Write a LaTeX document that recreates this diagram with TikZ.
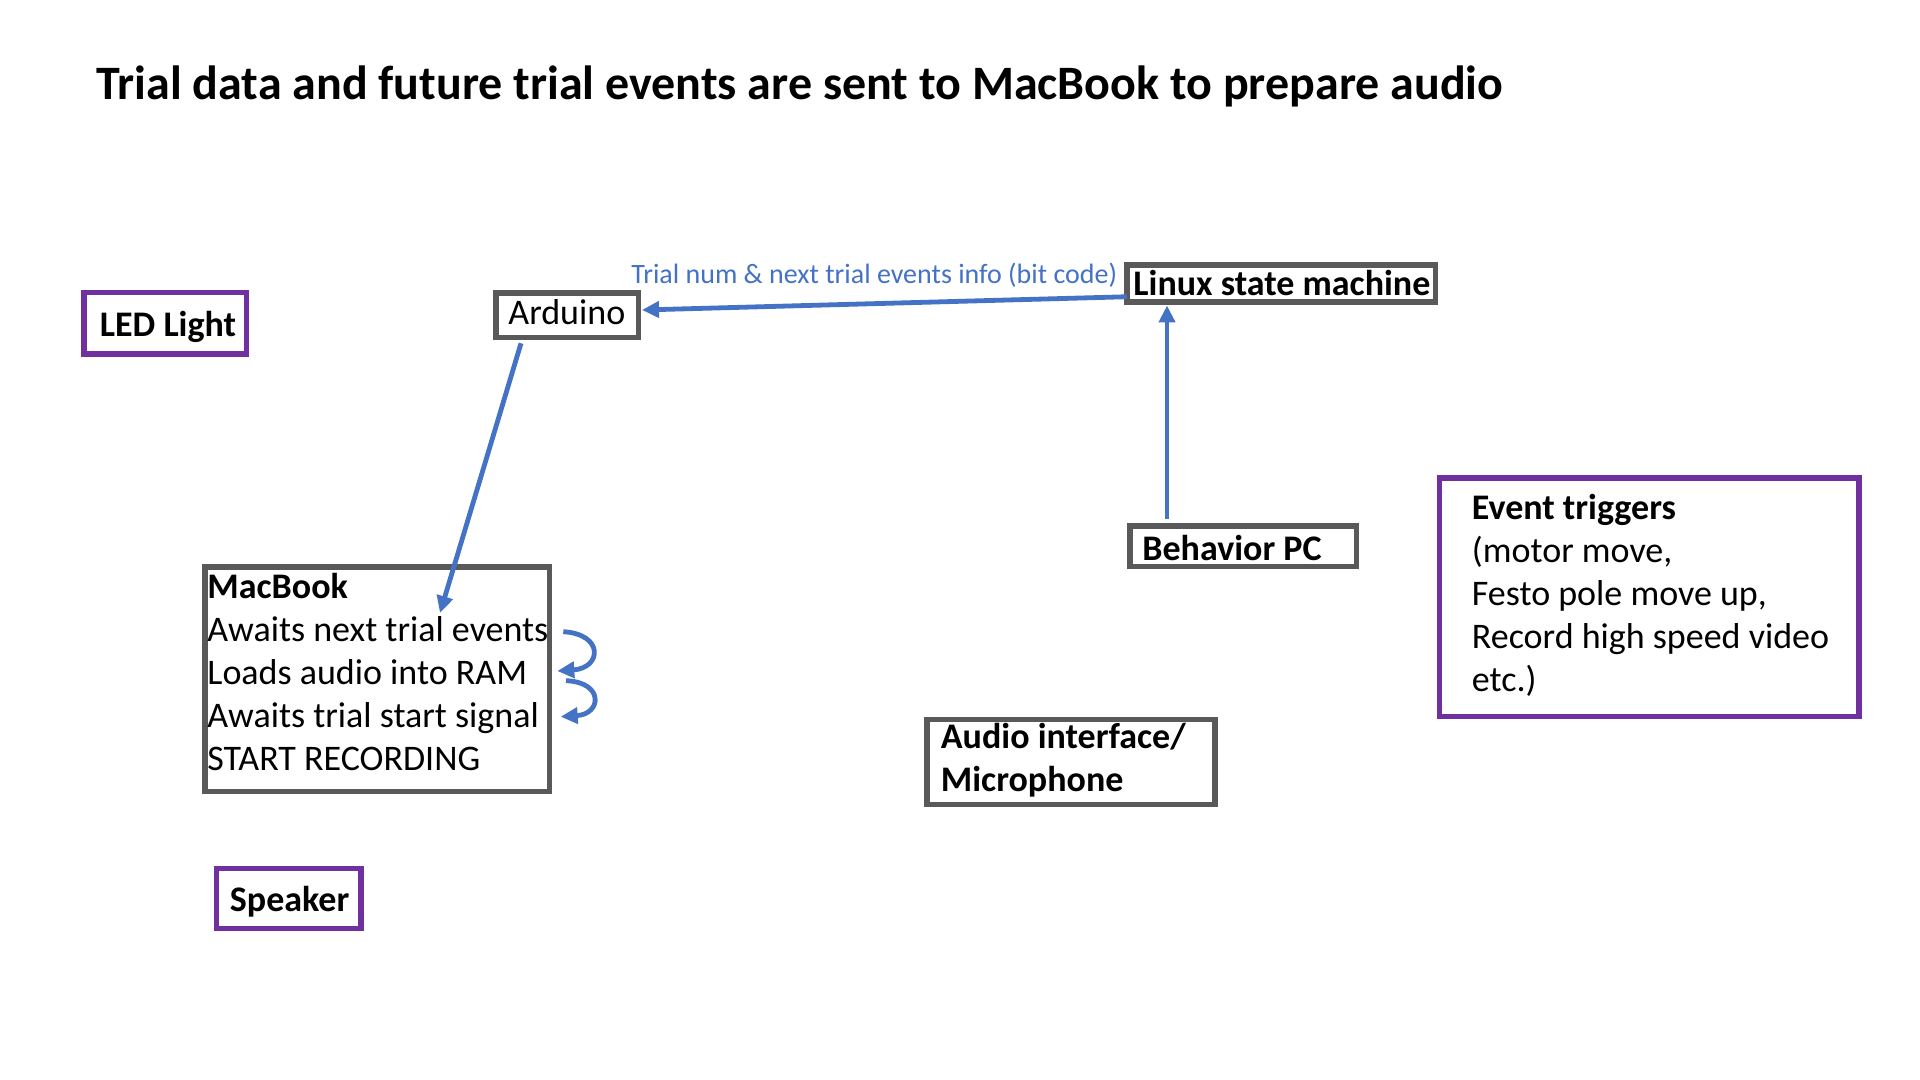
\documentclass[tikz,border=0pt]{standalone}
\usepackage{fontspec}
\setmainfont{Carlito}
\usetikzlibrary{arrows.meta,calc,fit}
\definecolor{pptblue}{HTML}{4472C4}
\definecolor{pptpurple}{HTML}{7030A0}
\definecolor{pptgray}{HTML}{595959}
\begin{document}
\begin{tikzpicture}[x=0.5pt,y=-0.5pt,
  box/.style={draw, line width=2.75pt, inner sep=0pt, outer sep=0pt, fill=white},
  gbox/.style={box, draw=pptgray},
  pbox/.style={box, draw=pptpurple},
  txt/.style={anchor=base west, inner sep=0pt, font=\fontsize{18}{21.6}\selectfont},
  btxt/.style={anchor=base west, inner sep=0pt, font=\fontsize{18}{21.6}\selectfont\bfseries},
  conn/.style={draw=pptblue, line width=2.4pt, -{Triangle[length=8.5pt,width=8pt]}}
]
\useasboundingbox[fill=white] (0,0) rectangle (1920,1080);

% title
\node[anchor=base west, inner sep=0pt, font=\fontsize{24}{28.8}\selectfont\bfseries] (title) at (96,100)
  {Trial data and future trial events are sent to MacBook to prepare audio};

% boxes
\node[pbox, fit={(83.75,292.75) (246.25,354)}] (led) {};
\node[gbox, fit={(495.75,293.25) (638.25,337.75)}] (ard) {};
\node[gbox, fit={(1126.75,265.25) (1435.25,302.25)}] (lin) {};
\node[gbox, fit={(1129.75,526) (1356.25,566.25)}] (bpc) {};
\node[pbox, fit={(1439.5,477.75) (1859,716.5)}] (evt) {};
\node[gbox, fit={(205,567) (549.7,791.5)}] (mb) {};
\node[gbox, fit={(926.75,719.5) (1215,804.5)}] (aud) {};
\node[pbox, fit={(216.25,868.5) (361,928.25)}] (spk) {};

% texts
\node[btxt] (ledT) at (99.5,336) {LED Light};
\node[txt] (ardT) at (508,325) {Arduino};
\node[btxt] (linT) at (1133,295.5) {Linux state machine};
\node[btxt] (bpcT) at (1142,560) {Behavior PC};
\node[btxt] (evtA) at (1471.5,519) {Event triggers};
\node[txt] (evtB) at (1471.5,562) {(motor move,};
\node[txt] (evtC) at (1471.5,605.2) {Festo pole move up,};
\node[txt] (evtD) at (1471.5,648.4) {Record high speed video};
\node[txt] (evtE) at (1471.5,691.7) {etc.)};
\node[btxt] (mbA) at (207,598.5) {MacBook};
\node[txt] (mbB) at (207,641.5) {Awaits next trial events};
\node[txt] (mbC) at (207,684.5) {Loads audio into RAM};
\node[txt] (mbD) at (207,727.5) {Awaits trial start signal};
\node[txt] (mbE) at (207,770.5) {START RECORDING};
\node[btxt] (audA) at (940.5,748) {Audio interface/};
\node[btxt] (audB) at (940.5,791) {Microphone};
\node[btxt] (spkT) at (229.5,911) {Speaker};

% label
\node[anchor=base west, inner sep=0pt, text=pptblue, font=\fontsize{14}{16.8}\selectfont] (lbl) at (631,283.3)
  {Trial num \& next trial events info (bit code)};

% connectors
\draw[conn] ($(lin.west)+(0,13)$) -- ($(ard.east)+(3.75,-5.5)$);
\draw[conn] ($(bpc.north west)+(37.25,-7)$) -- ($(lin.south west)+(40.25,3.25)$);
\draw[conn] ($(ard.south west)+(25.25,5.55)$) -- ($(mb.north west)+(235,46)$);
\draw[conn] ($(mb.north east)+(13.6,64.7)$) .. controls (604,634) and (602,668) .. ($(mb.north east)+(7.6,104)$);
\draw[conn] ($(mb.north east)+(16.3,113.7)$) .. controls (604,682) and (602,714) .. ($(mb.north east)+(11,149.7)$);
\end{tikzpicture}
\end{document}
